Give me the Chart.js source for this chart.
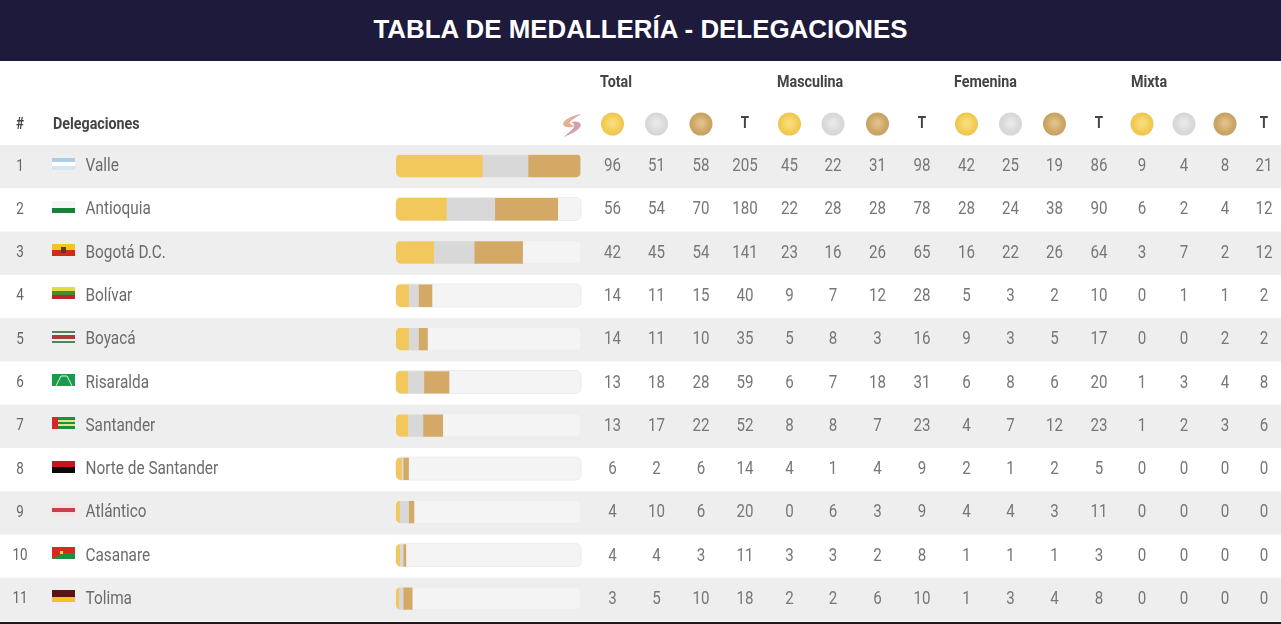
<!DOCTYPE html>
<html>
<head>
<meta charset="utf-8">
<title>Tabla de medallería</title>
<script src="https://cdn.jsdelivr.net/npm/chart.js@4"></script>
<style>
    html, body { margin: 0; padding: 0; background: #fff; overflow: hidden; }
    #header {
        height: 61px; background: #1e1a3b; color: #fff; text-align: center;
        font: bold 25.9px/58px "Liberation Sans", Arial, sans-serif; width: 1281px;
    }
    canvas { display: block; }
</style>
</head>
<body>
<div id="header">TABLA DE MEDALLERÍA - DELEGACIONES</div>
<canvas id="medalChart" width="1281" height="563"></canvas>
<script>
const delegations = ['Valle', 'Antioquia', 'Bogotá D.C.', 'Bolívar', 'Boyacá', 'Risaralda', 'Santander', 'Norte de Santander', 'Atlántico', 'Casanare', 'Tolima'];

const totalGold   = [96, 56, 42, 14, 14, 13, 13, 6, 4, 4, 3];
const totalSilver = [51, 54, 45, 11, 11, 18, 17, 2, 10, 4, 5];
const totalBronze = [58, 70, 54, 15, 10, 28, 22, 6, 6, 3, 10];
const totalAll    = [205, 180, 141, 40, 35, 59, 52, 14, 20, 11, 18];

const mascGold   = [45, 22, 23, 9, 5, 6, 8, 4, 0, 3, 2];
const mascSilver = [22, 28, 16, 7, 8, 7, 8, 1, 6, 3, 2];
const mascBronze = [31, 28, 26, 12, 3, 18, 7, 4, 3, 2, 6];
const mascAll    = [98, 78, 65, 28, 16, 31, 23, 9, 9, 8, 10];

const femGold   = [42, 28, 16, 5, 9, 6, 4, 2, 4, 1, 1];
const femSilver = [25, 24, 22, 3, 3, 8, 7, 1, 4, 1, 3];
const femBronze = [19, 38, 26, 2, 5, 6, 12, 2, 3, 1, 4];
const femAll    = [86, 90, 64, 10, 17, 20, 23, 5, 11, 3, 8];

const mixGold   = [9, 6, 3, 0, 0, 1, 1, 0, 0, 0, 0];
const mixSilver = [4, 2, 7, 1, 0, 3, 2, 0, 0, 0, 0];
const mixBronze = [8, 4, 2, 1, 2, 4, 3, 0, 0, 0, 0];
const mixAll    = [21, 12, 12, 2, 2, 8, 6, 0, 0, 0, 0];

const groupLabels = ['Total', 'Masculina', 'Femenina', 'Mixta'];
const maxMedals = 206;

const columns = [totalGold, totalSilver, totalBronze, totalAll, mascGold, mascSilver, mascBronze, mascAll,
    femGold, femSilver, femBronze, femAll, mixGold, mixSilver, mixBronze, mixAll];

// layout of the table around the bars (canvas coords, header band is 61px above)
const TOP = 61;
const columnX = [612.5, 656.5, 701, 745, 789.5, 833, 877.5, 922, 966.5, 1010.5, 1054.5, 1099, 1142, 1184, 1225, 1264];
const groupX = [600, 777, 954, 1131];
const GOLD = '#f2c75c', SILVER = '#d8d8d8', BRONZE = '#d4a965';
const FONT = 'Roboto, sans-serif';

// stripes of each flag, top to bottom, as [height, colour]
const flags = [
    [[4, '#a9cfe8'], [4, '#ffffff'], [4, '#d3e6f2']],
    [[7, '#f6f6f6'], [5, '#17813a']],
    [[6, '#f2c522'], [6, '#d8261c']],
    [[4, '#e4d93f'], [4, '#4a8a30'], [4, '#b5282a']],
    [[2, '#3f8f5c'], [2, '#f0f0f0'], [4, '#b03a36'], [2, '#f0f0f0'], [2, '#3f8f5c']],
    [[12, '#1c9a4b']],
    [[3, '#1f8f3d'], [2, '#e8e08a'], [2, '#1f8f3d'], [2, '#e8e08a'], [3, '#1f8f3d']],
    [[6, '#c8141e'], [6, '#0a0a0a']],
    [[4, '#f7e4e4'], [4, '#c8404a'], [4, '#f7e4e4']],
    [[6, '#d42a20'], [6, '#1f8f3d']],
    [[7, '#5a1414'], [5, '#f3c31f']]
];

// condensed look: Roboto squeezed horizontally
function text(ctx, str, x, y, align, weight, size, color) {
    ctx.save();
    ctx.translate(x, y);
    ctx.scale(0.84, 1);
    ctx.font = weight + ' ' + size + 'px ' + FONT;
    ctx.fillStyle = color;
    ctx.textAlign = align;
    ctx.textBaseline = 'middle';
    ctx.fillText(str, 0, 0);
    ctx.restore();
}

function drawMedal(ctx, x, y, base, light, dark) {
    const g = ctx.createRadialGradient(x, y - 1, 2, x, y, 12);
    g.addColorStop(0, light);
    g.addColorStop(0.6, base);
    g.addColorStop(1, dark);
    ctx.fillStyle = g;
    ctx.beginPath();
    ctx.arc(x, y, 11.5, 0, Math.PI * 2);
    ctx.fill();
}

function drawFlag(ctx, i, y) {
    const x = 52, w = 23, h = 12;
    const top = Math.round(y - h / 2);
    let sy = top;
    flags[i].forEach(([sh, c]) => {
        ctx.fillStyle = c;
        ctx.fillRect(x, sy, w, sh);
        sy += sh;
    });
    if (i === 2) { // Bogotá emblem
        ctx.fillStyle = '#5a3a1a';
        ctx.fillRect(x + 9, top + 3, 5, 6);
    }
    if (i === 5) { // Risaralda arc
        ctx.strokeStyle = '#d8f0de';
        ctx.lineWidth = 1;
        ctx.beginPath();
        ctx.moveTo(x + 4, top + h);
        ctx.lineTo(x + 9, top + 2);
        ctx.lineTo(x + 15, top + 2);
        ctx.lineTo(x + 20, top + h);
        ctx.stroke();
    }
    if (i === 6) { // Santander hoist
        ctx.fillStyle = '#d4282a';
        ctx.fillRect(x, top, 6, h);
    }
    if (i === 9) { // Casanare
        ctx.fillStyle = '#d42a20';
        ctx.beginPath();
        ctx.moveTo(x, top);
        ctx.lineTo(x + w, top);
        ctx.lineTo(x, top + h);
        ctx.fill();
        ctx.fillStyle = '#f2d94a';
        ctx.fillRect(x + 8, top + 4, 3, 3);
    }
}

// two soft blades of the games logo
function drawLogo(ctx, x, y) {
    ctx.save();
    ctx.globalAlpha = 0.85;
    ctx.fillStyle = '#dfa184';
    ctx.beginPath();
    ctx.moveTo(x + 9, y - 11);
    ctx.bezierCurveTo(x + 1, y - 10, x - 9, y - 5, x - 9, y - 1);
    ctx.bezierCurveTo(x - 8, y + 3, x - 2, y + 3, x + 3, y + 1);
    ctx.bezierCurveTo(x - 1, y, x - 3, y - 2, x - 2, y - 3);
    ctx.bezierCurveTo(x, y - 6, x + 6, y - 8, x + 9, y - 11);
    ctx.fill();
    ctx.fillStyle = '#c98f9f';
    ctx.beginPath();
    ctx.moveTo(x - 8, y + 12);
    ctx.bezierCurveTo(x - 1, y + 9, x + 8, y + 5, x + 9, y);
    ctx.bezierCurveTo(x + 8, y - 4, x + 3, y - 4, x - 1, y - 3);
    ctx.bezierCurveTo(x + 2, y - 2, x + 3, y, x + 2, y + 2);
    ctx.bezierCurveTo(x, y + 5, x - 5, y + 9, x - 8, y + 12);
    ctx.fill();
    ctx.restore();
}

const tablePlugin = {
    id: 'tablePlugin',
    beforeDraw(chart) {
        const { ctx, chartArea, scales } = chart;
        const y = scales.y;
        const rowH = y.getPixelForValue(1) - y.getPixelForValue(0);
        // row stripes
        delegations.forEach((d, i) => {
            if (i % 2 === 0) {
                ctx.fillStyle = '#eeeeee';
                ctx.fillRect(0, y.getPixelForValue(i) - rowH / 2, chart.width, rowH);
            }
        });
        // bottom rule
        ctx.fillStyle = '#1a1a1a';
        ctx.fillRect(0, chartArea.bottom + 1, chart.width, 2);

        // headers
        groupLabels.forEach((g, i) => text(ctx, g, groupX[i], 82.5 - TOP, 'left', 700, 17, '#444'));
        text(ctx, '#', 20, 124.5 - TOP, 'center', 700, 16, '#444');
        text(ctx, 'Delegaciones', 53, 124.5 - TOP, 'left', 700, 17, '#444');
        drawLogo(ctx, 572, 125 - TOP);
        for (let g = 0; g < 4; g++) {
            drawMedal(ctx, columnX[g * 4], 124 - TOP, '#f3cd55', '#f8dc7c', '#ecc350');
            drawMedal(ctx, columnX[g * 4 + 1], 124 - TOP, '#dadada', '#e8e8e8', '#d6d6d6');
            drawMedal(ctx, columnX[g * 4 + 2], 124 - TOP, '#cea868', '#dfc08a', '#c7a060');
            text(ctx, 'T', columnX[g * 4 + 3], 124 - TOP, 'center', 700, 16, '#444');
        }

        // rows
        delegations.forEach((d, i) => {
            const cy = y.getPixelForValue(i);
            text(ctx, String(i + 1), 20, cy, 'center', 400, 16, '#666');
            drawFlag(ctx, i, cy - 3);
            text(ctx, d, 85.5, cy, 'left', 400, 18.3, '#6b6b6b');
            columns.forEach((col, c) => text(ctx, String(col[i]), columnX[c], cy, 'center', 400, 18, '#777'));
        });
    },
    beforeDatasetsDraw(chart) {
        const { ctx, scales } = chart;
        const x0 = scales.x.getPixelForValue(0);
        const x1 = scales.x.getPixelForValue(maxMedals);
        // track behind each bar, bars clipped to its rounded shape
        ctx.save();
        ctx.beginPath();
        delegations.forEach((d, i) => {
            const cy = scales.y.getPixelForValue(i) - 1;
            ctx.roundRect(x0, cy - 11.5, x1 - x0, 23, 5);
        });
        ctx.fillStyle = '#f4f4f4';
        ctx.fill();
        ctx.strokeStyle = '#ececec';
        ctx.lineWidth = 1;
        ctx.stroke();
        ctx.clip();
    },
    afterDatasetsDraw(chart) {
        chart.ctx.restore();
    }
};

new Chart(document.getElementById('medalChart'), {
    type: 'bar',
    data: {
        labels: delegations,
        datasets: [
            { label: 'Oro', data: totalGold, backgroundColor: GOLD },
            { label: 'Plata', data: totalSilver, backgroundColor: SILVER },
            { label: 'Bronce', data: totalBronze, backgroundColor: BRONZE }
        ]
    },
    options: {
        indexAxis: 'y',
        responsive: false,
        animation: false,
        devicePixelRatio: 1,
        layout: { padding: { left: 396, right: 700, top: 145 - TOP, bottom: 3 } },
        datasets: { bar: { barThickness: 23 } },
        scales: {
            x: { stacked: true, min: 0, max: maxMedals, display: false },
            y: { stacked: true, display: false, offset: true }
        },
        plugins: { legend: { display: false }, tooltip: { enabled: false } }
    },
    plugins: [tablePlugin]
});
</script>
</body>
</html>
